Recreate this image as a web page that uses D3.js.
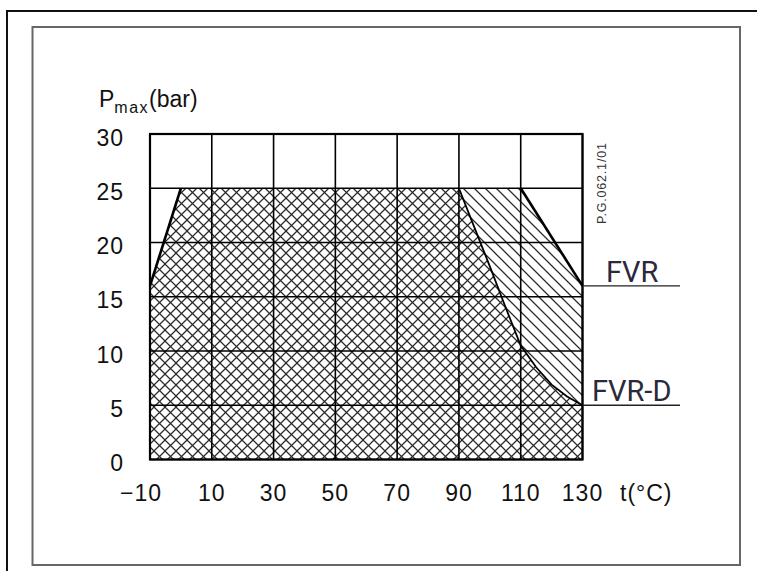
<!DOCTYPE html>
<html>
<head>
<meta charset="utf-8">
<script src="https://cdn.jsdelivr.net/npm/d3@7"></script>
<style>
  body { margin: 0; background: #fff; }
  text { font-family: "Liberation Sans", Arial, sans-serif; }
</style>
</head>
<body>
<div id="chart"></div>
<script>
// temperatures (°C) and pressures (bar)
var xTicks = [-10, 10, 30, 50, 70, 90, 110, 130];
var yTicks = [0, 5, 10, 15, 20, 25, 30];

var fvrT = [-10, 0, 110, 130];
var fvrP = [16, 25, 25, 16];

var fvrdT = [-10, 0, 90, 95, 100, 105, 110, 115, 120, 125, 130];
var fvrdP = [16, 25, 25, 21.4, 17.8, 14.1, 10.5, 8.5, 6.9, 5.8, 5];

var seriesLabels = ["FVR", "FVR-D"];
var seriesEndP = [16, 5];

var width = 757, height = 571;

var svg = d3.select("#chart")
  .append("svg")
    .attr("width", width)
    .attr("height", height);

var x = d3.scaleLinear().domain([-10, 130]).range([150, 582.5]);
var y = d3.scaleLinear().domain([0, 30]).range([459.5, 134]);

// frames
svg.append("rect")
  .attr("x", 7).attr("y", 11)
  .attr("width", 800).attr("height", 600)
  .attr("fill", "none").attr("stroke", "#111").attr("stroke-width", 2);
svg.append("rect")
  .attr("x", 32.5).attr("y", 27)
  .attr("width", 707.5).attr("height", 538)
  .attr("fill", "none").attr("stroke", "#666").attr("stroke-width", 2);

// hatch patterns
var hs = 11;
var defs = svg.append("defs");
defs.append("pattern")
    .attr("id", "back")
    .attr("patternUnits", "userSpaceOnUse")
    .attr("width", hs).attr("height", hs)
  .append("path")
    .attr("d", "M0,0L" + hs + "," + hs + "M" + (-hs / 2) + "," + (hs / 2) + "L" + (hs / 2) + "," + (1.5 * hs) +
               "M" + (hs / 2) + "," + (-hs / 2) + "L" + (1.5 * hs) + "," + (hs / 2))
    .attr("stroke", "#2a2a2a").attr("stroke-width", 1.25);
defs.append("pattern")
    .attr("id", "fwd")
    .attr("patternUnits", "userSpaceOnUse")
    .attr("width", hs).attr("height", hs)
  .append("path")
    .attr("d", "M0," + hs + "L" + hs + ",0M" + (-hs / 2) + "," + (hs / 2) + "L" + (hs / 2) + "," + (-hs / 2) +
               "M" + (hs / 2) + "," + (1.5 * hs) + "L" + (1.5 * hs) + "," + (hs / 2))
    .attr("stroke", "#2a2a2a").attr("stroke-width", 1.25);

function area(ts, ps) {
  var pts = ts.map(function(t, i) { return [x(t), y(ps[i])]; });
  pts.push([x(ts[ts.length - 1]), y(0)]);
  pts.push([x(ts[0]), y(0)]);
  return d3.line()(pts) + "Z";
}

svg.append("path")
  .attr("d", area(fvrT, fvrP))
  .attr("fill", "url(#back)");
svg.append("path")
  .attr("d", area(fvrdT, fvrdP))
  .attr("fill", "url(#fwd)");

// grid
svg.append("g")
  .selectAll("line")
  .data(xTicks)
  .enter().append("line")
    .attr("x1", function(d) { return x(d); })
    .attr("x2", function(d) { return x(d); })
    .attr("y1", y(30)).attr("y2", y(0))
    .attr("stroke", "#000").attr("stroke-width", 1.6);
svg.append("g")
  .selectAll("line")
  .data(yTicks)
  .enter().append("line")
    .attr("x1", x(-10)).attr("x2", x(130))
    .attr("y1", function(d) { return y(d); })
    .attr("y2", function(d) { return y(d); })
    .attr("stroke", "#000").attr("stroke-width", 1.6);
svg.append("rect")
  .attr("x", x(-10)).attr("y", y(30))
  .attr("width", x(130) - x(-10)).attr("height", y(0) - y(30))
  .attr("fill", "none").attr("stroke", "#000").attr("stroke-width", 2.2);

// boundary lines
svg.append("path")
  .attr("d", d3.line()(fvrdT.slice(2).map(function(t, i) { return [x(t), y(fvrdP[i + 2])]; })))
  .attr("fill", "none").attr("stroke", "#000").attr("stroke-width", 1.8);
svg.append("path")
  .attr("d", d3.line()(fvrT.slice(0, 2).map(function(t, i) { return [x(t), y(fvrP[i])]; })))
  .attr("fill", "none").attr("stroke", "#000").attr("stroke-width", 2.6);
svg.append("path")
  .attr("d", d3.line()(fvrT.slice(2).map(function(t, i) { return [x(t), y(fvrP[i + 2])]; })))
  .attr("fill", "none").attr("stroke", "#000").attr("stroke-width", 2.6);

// series labels with leader lines
seriesLabels.forEach(function(lab, i) {
  svg.append("line")
    .attr("x1", x(130)).attr("x2", 680)
    .attr("y1", y(seriesEndP[i])).attr("y2", y(seriesEndP[i]))
    .attr("stroke", "#222").attr("stroke-width", 1.4);
  svg.append("text")
    .attr("x", i === 0 ? 606 : 592)
    .attr("y", y(seriesEndP[i]) - 4)
    .style("font-family", "Roboto, sans-serif")
    .style("font-size", "29px")
    .attr("fill", "#2a2a3a")
    .text(lab);
});

// tick labels
svg.append("g")
  .selectAll("text")
  .data(yTicks)
  .enter().append("text")
    .attr("x", 124)
    .attr("y", function(d) { return y(d) + 11.5; })
    .attr("text-anchor", "end")
    .style("font-size", "23px")
    .style("letter-spacing", "1px")
    .attr("fill", "#111")
    .text(function(d) { return d; });
svg.append("g")
  .selectAll("text")
  .data(xTicks)
  .enter().append("text")
    .attr("x", function(d) { return x(d) + (d < 0 ? -9 : 0); })
    .attr("y", 501)
    .attr("text-anchor", "middle")
    .style("font-size", "23px")
    .style("letter-spacing", "1px")
    .attr("fill", "#111")
    .text(function(d) { return d < 0 ? "\u2212" + Math.abs(d) : d; });

svg.append("text")
  .attr("x", 620).attr("y", 501)
  .style("font-size", "23px")
  .style("letter-spacing", "1px")
  .attr("fill", "#111")
  .text("t(°C)");

var yt = svg.append("text")
  .attr("x", 99).attr("y", 107)
  .style("font-size", "23px")
  .attr("fill", "#111");
yt.append("tspan").text("P");
yt.append("tspan").attr("dy", 6).style("font-size", "16px").style("letter-spacing", "1.5px").text("max");
yt.append("tspan").attr("dy", -6).text("(bar)");

// drawing reference number
svg.append("text")
  .attr("transform", "translate(606,224) rotate(-90)")
  .style("font-size", "12.5px")
  .style("letter-spacing", "0.8px")
  .attr("fill", "#333")
  .text("P.G.062.1/01");
</script>
</body>
</html>
